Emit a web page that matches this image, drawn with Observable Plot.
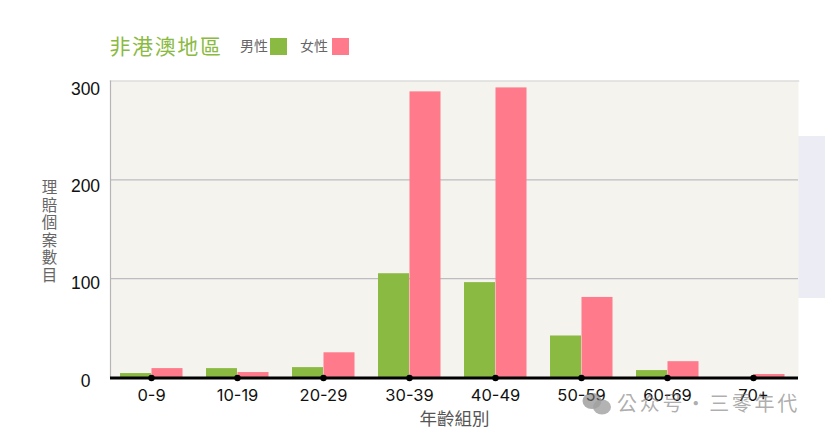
<!DOCTYPE html>
<html><head><meta charset="utf-8">
<script src="https://cdn.jsdelivr.net/npm/d3@7"></script>
<script src="https://cdn.jsdelivr.net/npm/@observablehq/plot@0.6"></script>
<style>
html,body{margin:0;padding:0;background:#fff;width:825px;height:436px;overflow:hidden;position:relative;font-family:"Noto Sans CJK TC",sans-serif}
#side{position:absolute;left:798px;top:136px;width:27px;height:162px;background:#ecedf4}
#head{position:relative;height:60px}
#title{position:absolute;left:109.5px;top:30px;font-size:21px;line-height:30px;letter-spacing:1.6px;font-weight:400;color:#8aba42}
.lg{position:absolute;top:36px;font-size:14px;line-height:18px;color:#666}
.sw{position:absolute;top:38px;width:17px;height:17px}
#chart{position:relative}
#chart svg{display:block;background:transparent}
#wm{position:absolute;left:617px;top:389px;font-size:20px;line-height:28px;letter-spacing:2.7px;word-spacing:-6.5px;color:rgba(120,120,120,.6);white-space:nowrap}
#wi{position:absolute;left:582px;top:392px}
</style></head>
<body>
<div id="side"></div>
<div id="head"><div id="title"></div></div>
<div id="chart"></div>
<svg id="wi" width="30" height="24"><ellipse cx="10" cy="9" rx="9.5" ry="8" fill="rgba(120,120,120,.6)"/><ellipse cx="20" cy="15" rx="9" ry="7.5" fill="rgba(160,160,160,.8)"/></svg>
<div id="wm">公众号 · 三零年代</div>
<script>
const titleText = "非港澳地區";
const ages = ["0-9","10-19","20-29","30-39","40-49","50-59","60-69","70+"];
const male = [4,9,10,105,96,42,7,0];
const female = [9,5,25,289,293,81,16,3];
const yTicks = [0,100,200,300];
const yTitle = "理賠個案數目";
const xTitle = "年齡組別";
const maleName = "男性", femaleName = "女性";
const green = "#8aba42", pink = "#ff7a8a";

document.getElementById("title").textContent = titleText;
const head = document.getElementById("head");
[[maleName,green,240,270],[femaleName,pink,300,332]].forEach(([n,c,tx,sx])=>{
  const t=document.createElement("div");t.className="lg";t.style.left=tx+"px";t.textContent=n;head.appendChild(t);
  const s=document.createElement("div");s.className="sw";s.style.left=sx+"px";s.style.background=c;head.appendChild(s);
});

const maleRows = ages.map((a,i)=>({age:a,value:male[i]}));
const femaleRows = ages.map((a,i)=>({age:a,value:female[i]}));
const yLabelShift = [4,5,6.3,8.5];

const chart = Plot.plot({
  width:825, height:376,
  marginLeft:110, marginRight:27, marginTop:20.5, marginBottom:59,
  style:{fontFamily:'Inter,"Noto Sans CJK TC",sans-serif',background:"transparent"},
  x:{domain:ages,padding:0,label:null},
  y:{domain:[0,300],label:null},
  marks:[
    Plot.frame({fill:"#f4f3ee",stroke:null}),
    Plot.frame({anchor:"top",stroke:"#dcdcdc",strokeWidth:1.5,strokeOpacity:1}),
    Plot.ruleY([100,200],{stroke:"#bcbdc0",strokeWidth:1.2}),
    Plot.frame({anchor:"left",stroke:"#b5b5b5",strokeWidth:1.2,strokeOpacity:1}),
    Plot.barY(maleRows,{x:"age",y:"value",fill:green,insetLeft:10,insetRight:45}),
    Plot.barY(femaleRows,{x:"age",y:"value",fill:pink,insetLeft:41.5,insetRight:13.5}),
    Plot.ruleY([0],{stroke:"#000",strokeWidth:3,dy:0.5}),
    Plot.dot(ages,{x:d=>d,y:()=>0,r:3.2,fill:"#000",dx:-2,dy:0.5}),
    Plot.axisX({ticks:ages,tickSize:0,tickPadding:12,fontSize:16.5,dx:-2,color:"#111",label:null}),
    ...yTicks.map((t,i)=>Plot.axisY({ticks:[t],tickSize:0,tickPadding:25,textAnchor:"middle",fontFamily:"Liberation Sans",fontSize:17.5,dy:yLabelShift[i],color:"#111",label:null})),
    Plot.text([xTitle],{frameAnchor:"bottom",dy:47,fontSize:17.5,fill:"#555"}),
    Plot.text([yTitle.split("").join("\n")],{frameAnchor:"left",dx:-61,dy:2,fontSize:15.5,lineHeight:1.135,fill:"#666",textAnchor:"middle"})
  ]
});
document.getElementById("chart").appendChild(chart);
</script>
</body></html>
